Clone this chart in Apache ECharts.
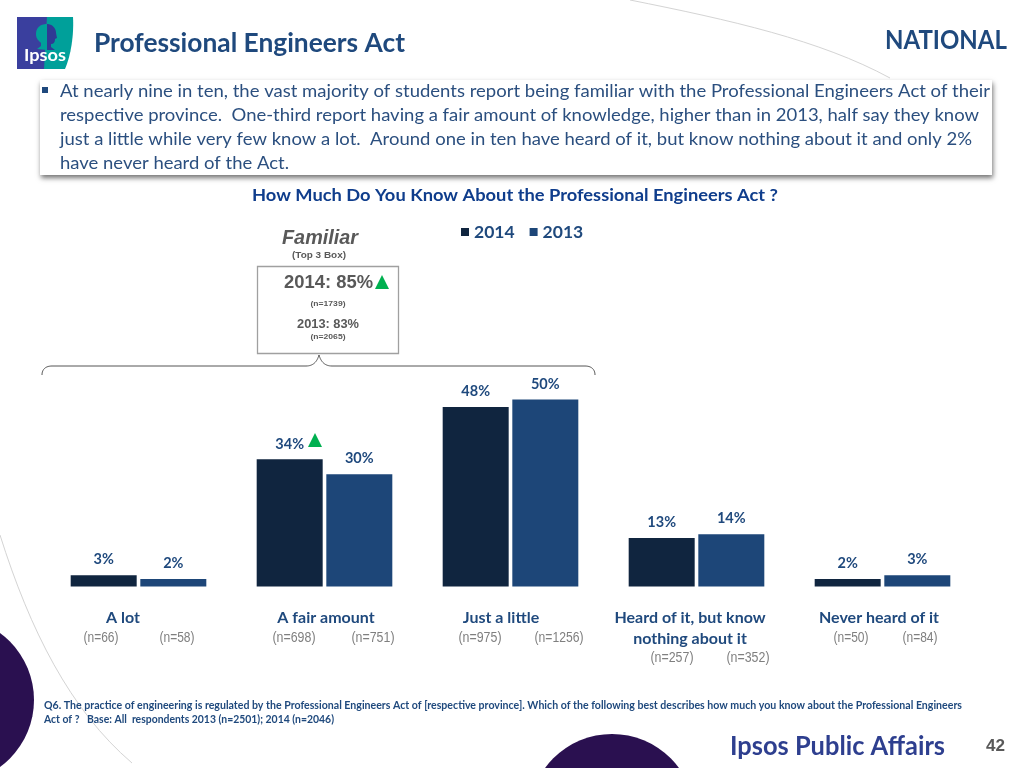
<!DOCTYPE html>
<html><head><meta charset="utf-8">
<style>html,body{margin:0;padding:0;background:#fff}#c{width:1024px;height:768px}</style>
<script src="https://cdn.jsdelivr.net/npm/echarts@6/dist/echarts.min.js"></script>
</head><body><div id="c"></div>
<script>
const categories = ['A lot','A fair amount','Just a little','Heard of it, but know\nnothing about it','Never heard of it'];
const values2014 = [3,34,48,13,2];
const values2013 = [2,30,50,14,3];
const n2014 = [66,698,975,257,50];
const n2013 = [58,751,1256,352,84];
const bodyLines = [
 'At nearly nine in ten, the vast majority of students report being familiar with the Professional Engineers Act of their',
 'respective province.  One-third report having a fair amount of knowledge, higher than in 2013, half say they know',
 'just a little while very few know a lot.  Around one in ten have heard of it, but know nothing about it and only 2%',
 'have never heard of the Act.'];
const footLines = [
 'Q6. The practice of engineering is regulated by the Professional Engineers Act of [respective province]. Which of the following best describes how much you know about the Professional Engineers',
 'Act of ?   Base: All  respondents 2013 (n=2501); 2014 (n=2046)'];

const NAVY='#1f497d', DARK='#10253f', GREY='#595959';
const cv=document.createElement('canvas').getContext('2d');
function fit(text,x,y,width,o){
  const font=`${o.style||''} ${o.weight||'normal'} ${o.size}px ${o.family||'Lato'}`;
  cv.font=font;
  const w=cv.measureText(text).width;
  return {type:'text',x:x,y:y,scaleX:width/w,silent:true,z:20,
    style:{text:text,x:0,y:0,fill:o.color||NAVY,font:font,textAlign:'left',textVerticalAlign:'middle'}};
}
function ctr(text,cx,y,width,o){ return fit(text,cx-width/2,y,width,o); }
function pts(d){
  const t=d.trim().split(/\s+/); const out=[]; let i=0,cmd='',cx=0,cy=0;
  while(i<t.length){
    if(/[MLCZ]/.test(t[i])){cmd=t[i++]; if(cmd==='Z')continue;}
    if(cmd==='C'){
      const [a,b,c,e,f,h]=t.slice(i,i+6).map(Number); i+=6;
      for(let k=1;k<=16;k++){const u=k/16,v=1-u;
        out.push([v*v*v*cx+3*v*v*u*a+3*v*u*u*c+u*u*u*f, v*v*v*cy+3*v*v*u*b+3*v*u*u*e+u*u*u*h]);}
      cx=f;cy=h;
    } else {cx=+t[i];cy=+t[i+1];i+=2;out.push([cx,cy]);}
  }
  return out;
}
const curve=(d,stroke,lw)=>({type:'polyline',shape:{points:pts(d)},style:{fill:null,stroke:stroke,lineWidth:lw},silent:true});
const blob=(d,fill)=>({type:'polygon',shape:{points:pts(d)},style:{fill:fill},silent:true});

const g=[];
g.push({type:'circle',shape:{cx:-49,cy:700,r:83},style:{fill:'#2a1050'},silent:true});
g.push({type:'circle',shape:{cx:612,cy:817,r:83},style:{fill:'#2a1050'},silent:true});
g.push(curve('M 630 0 C 730 20 820 40 890 78','#d4d4d4',1));
g.push(curve('M 0 535 C 30 630 70 710 132 763','#d4d4d4',1));
// logo
g.push(blob('M 17 17 L 48 17 L 45 69 L 17 69 Z','#3a3f9e'));
g.push(blob('M 47 17 L 73 17 C 74 35 71 55 65 69 L 44 69 Z','#00a09a'));
g.push(blob('M 47 24 C 40 24 36 28 36 34 C 36 39 39 41 41 43 L 41 46 L 37 49 L 47 50 Z','#00a09a'));
g.push(blob('M 47 24 C 52 24 56 28 56 33 L 57 38 L 55 39 C 55 43 53 44 51 44 L 51 47 L 55 50 L 47 50 Z','#2f3a94'));
g.push(fit('Ipsos',24,56,42,{size:17,weight:'bold',color:'#ffffff'}));
g.push(fit('Professional Engineers Act',94,43.5,311,{size:27,weight:'bold'}));
g.push(fit('NATIONAL',885,40.5,122,{size:26,weight:'bold'}));
g.push({type:'rect',shape:{x:40,y:80,width:952,height:95},style:{fill:'#fff',shadowBlur:5,shadowOffsetY:3,shadowOffsetX:1,shadowColor:'rgba(0,0,0,0.55)'},silent:true,z:5});
g.push({type:'rect',shape:{x:42,y:87,width:6,height:6},style:{fill:NAVY},silent:true,z:20});
const bodyWidths=[930,919,912,229];
bodyLines.forEach((t,i)=>g.push(fit(t,60,91+i*24,bodyWidths[i],{size:18,color:'#2b4f7f'})));
g.push(fit('How Much Do You Know About the Professional Engineers Act ?',252,195.5,526,{size:17.5,weight:'bold',color:'#0f3d8c'}));
const AR='"Liberation Sans"';
g.push(fit('Familiar',282,238,76,{size:20,weight:'bold',style:'italic',family:AR,color:GREY}));
g.push(ctr('(Top 3 Box)',319,255.5,54,{size:9.5,weight:'bold',family:AR,color:GREY}));
g.push({type:'rect',shape:{x:257.5,y:266.5,width:141,height:87},style:{fill:'#fff',stroke:'#a0a0a0',lineWidth:1.3},silent:true});
g.push(fit('2014: 85%',284,283.5,89,{size:17.5,weight:'bold',family:AR,color:GREY}));
g.push(ctr('(n=1739)',328,304,35,{size:8,weight:'bold',family:AR,color:GREY}));
g.push(ctr('2013: 83%',328,324.5,62,{size:12.5,weight:'bold',family:AR,color:GREY}));
g.push(ctr('(n=2065)',328,337,35,{size:8,weight:'bold',family:AR,color:GREY}));
g.push({type:'polygon',shape:{points:[[382,275],[389,289],[375,289]]},style:{fill:'#00b050'},silent:true,z:20});
g.push({type:'polygon',shape:{points:[[315,433],[322,447],[308,447]]},style:{fill:'#00b050'},silent:true,z:20});
g.push(curve('M 42 375 C 42 369 46 366 52 366 L 306 366 C 313 366 317 362 319 355 C 321 362 325 366 332 366 L 585 366 C 591 366 595 369 595 375','#555',1));
const n14x=[101,294,480,672,851], n13x=[177,373,559,748,920], nY=[638,638,638,658,638];
const nW=v=>String(v).length>3?49:(String(v).length>2?43:35);
n2014.forEach((v,i)=>g.push(ctr(`(n=${v})`,n14x[i],nY[i],nW(v),{size:15,family:AR,color:'#7f7f7f'})));
n2013.forEach((v,i)=>g.push(ctr(`(n=${v})`,n13x[i],nY[i],nW(v),{size:15,family:AR,color:'#7f7f7f'})));
const footW=[918,290];
footLines.forEach((t,i)=>g.push(fit(t,44,706+i*14,footW[i],{size:10.5,weight:'bold'})));
g.push(fit('Ipsos Public Affairs',730,746,215,{size:27,weight:'bold',color:'#2e3f8f'}));
g.push(fit('42',986,746.5,19,{size:16,weight:'bold',family:AR,color:GREY}));

const shifts=[-15.5,1.5,-9.5,-6.5,-3.5];
const rich={};
shifts.forEach((s,i)=>{rich['c'+i]={fontFamily:'Lato',fontWeight:'bold',fontSize:16,color:NAVY,lineHeight:21,
  padding:s<0?[0,-2*s,0,0]:[0,0,0,2*s]};});

const lab={show:true,position:'top',distance:8,formatter:'{c}%',fontFamily:'Lato',fontWeight:'bold',fontSize:14.5,color:NAVY};
const chart=echarts.init(document.getElementById('c'),null,{renderer:'canvas'});
chart.setOption({
  animation:false,backgroundColor:'#fff',
  grid:{left:45.5,top:362.1,width:930,height:224.4,containLabel:false},
  legend:{left:456,top:218,icon:'rect',itemWidth:8,itemHeight:8,itemGap:15,
    textStyle:{fontFamily:'Lato',fontWeight:'bold',fontSize:17.5,color:NAVY},data:['2014','2013'],selectedMode:false},
  xAxis:{type:'category',data:categories,axisLine:{show:false},axisTick:{show:false},
    axisLabel:{margin:21,interval:0,lineHeight:21,rich:rich,
      formatter:(v,i)=>v.split('\n').map(l=>`{c${i}|${l}}`).join('\n')}},
  yAxis:{type:'value',min:0,max:60,interval:10,show:false,splitLine:{show:false}},
  series:[
    {name:'2014',type:'bar',data:values2014,barWidth:66,barGap:'5.5%',itemStyle:{color:DARK},label:lab,z:10},
    {name:'2013',type:'bar',data:values2013,barWidth:66,itemStyle:{color:'#1d4678'},label:lab,z:10}
  ],
  graphic:{elements:g}
});
</script></body></html>
